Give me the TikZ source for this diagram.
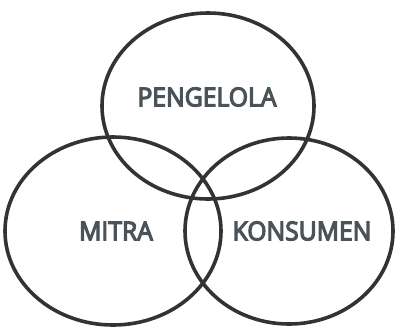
\documentclass[tikz,border=0pt]{standalone}
\usepackage{xcolor}
\usepackage{fontspec}
\setmainfont{Open Sans}[BoldFont={Open Sans}, BoldFeatures={FakeBold=4.5, FakeStretch=0.95}]
\usetikzlibrary{shapes.geometric}
\definecolor{ringgray}{HTML}{333333}
\definecolor{labelgray}{HTML}{4A5358}

\begin{document}
\begin{tikzpicture}[x=1pt,y=-1pt,
		ring/.style={ellipse, draw=ringgray, line width=3.6pt, inner sep=0pt},
		label/.style={text=labelgray, font=\bfseries\fontsize{26}{30}\selectfont, inner sep=0pt}]
	\useasboundingbox (0,0) rectangle (395,327);
	\node[ring, minimum width=212pt, minimum height=186pt] (pengelola) at (208,106) {};
	\node[ring, minimum width=216pt, minimum height=188pt] (mitra) at (113,231) {};
	\node[ring, minimum width=208pt, minimum height=186pt] (konsumen) at (289,231) {};
	\node[label] (pengelolatext) at (207,97) {PENGELOLA};
	\node[label] (mitratext) at (116,231) {MITRA};
	\node[label] (konsumentext) at (302,231) {KONSUMEN};
\end{tikzpicture}
\end{document}
